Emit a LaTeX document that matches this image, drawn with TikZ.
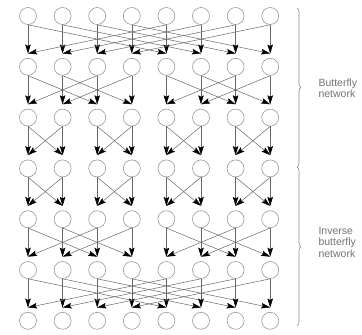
\documentclass[tikz,border=0pt]{standalone}
\usepackage{fontspec}
\setmainfont{Liberation Sans}
\usepackage{tikz}
\usetikzlibrary{arrows.meta, decorations.pathreplacing, calc}

\begin{document}
\begin{tikzpicture}[
    x=1pt, y=-1pt,
    switch node/.style={circle, draw=black!40, fill=white, minimum size=17pt, inner sep=0pt, line width=0.6pt},
    link/.style={black!60, line width=0.5pt, -{Stealth[black, length=9pt, width=5.5pt, inset=1.5pt]}},
    side label/.style={text=black!55, font=\fontsize{10.5}{11.5}\selectfont, align=left, anchor=west}
]

\tikzset{brace line/.style={black!45, line width=0.6pt, decorate, decoration={brace, amplitude=4pt}}}

\useasboundingbox (0,0) rectangle (362,335);

% --- 1. Switch nodes (7 stages, 8 per stage) ---
\foreach \r in {0,...,6}{
    \foreach \c in {0,...,7}{
        \node[switch node] (n-\r-\c) at (28+34.6*\c, 16+50.8*\r) {};
        % input point a little above each node
        \coordinate (in-\r-\c) at ($(n-\r-\c.north)+(0,-4.5)$);
    }
}

% --- 2. Links: strides 4,2,1 then 1,2,4 ---
\foreach \r/\s in {0/4, 1/2, 2/1, 3/1, 4/2, 5/4}{
    \pgfmathtruncatemacro\nr{\r+1}
    \foreach \c in {0,...,7}{
        \pgfmathtruncatemacro\p{mod(floor(\c/\s),2)==0 ? \c+\s : \c-\s}
        \draw[link] (n-\r-\c.south) -- (in-\nr-\c);
        \draw[link] (n-\r-\c.south) -- (in-\nr-\p);
    }
}

% --- 3. Braces and labels ---
\coordinate (bTop) at (297,8);
\coordinate (bMid) at (297,167);
\coordinate (bBot) at (297,326);
\draw[brace line] (bTop) -- (bMid);
\draw[brace line] (bMid) -- (bBot);

\node[side label] (lbl-fly) at (315,88) {Butterfly\\network};
\node[side label] (lbl-inv) at (315,242) {Inverse\\butterfly\\network};

\end{tikzpicture}
\end{document}
